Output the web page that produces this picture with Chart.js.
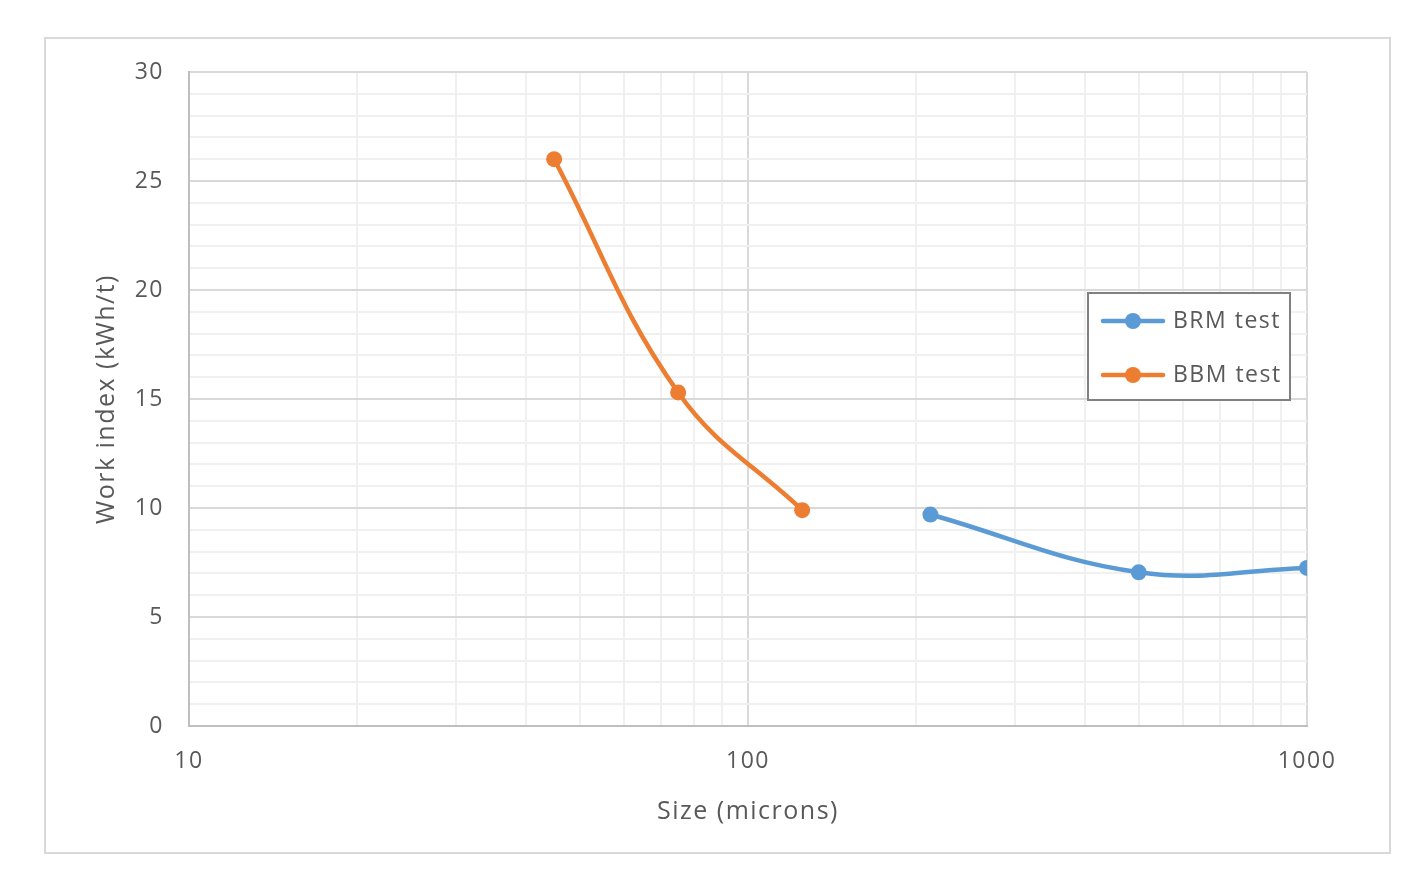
<!DOCTYPE html>
<html>
<head>
<meta charset="utf-8">
<script src="https://cdn.jsdelivr.net/npm/chart.js@4/dist/chart.umd.min.js"></script>
<style>
  html, body { margin: 0; padding: 0; background: #ffffff; }
  #wrap { position: relative; width: 1415px; height: 878px; }
  canvas { display: block; }
</style>
</head>
<body>
<div id="wrap"><canvas id="c" width="1415" height="878"></canvas></div>
<script>
// ---- Data ----
const seriesNames = ['BRM test', 'BBM test'];
const sizesBRM = [212, 500, 1000];
const workBRM = [9.7, 7.05, 7.25];
const sizesBBM = [45, 75, 125];
const workBBM = [26, 15.3, 9.9];
const xTickValues = [10, 20, 30, 40, 50, 60, 70, 80, 90, 100, 200, 300, 400, 500, 600, 700, 800, 900, 1000];
const xTickLabels = ['10', '100', '1000'];
const yTickLabels = ['0', '5', '10', '15', '20', '25', '30'];

const BLUE = '#5b9bd5';
const ORANGE = '#ed7d31';
const TEXT = '#595959';
const FONT = "'Open Sans', 'DejaVu Sans', sans-serif";

const toPoints = (xs, ys) => xs.map((x, i) => ({ x: x, y: ys[i] }));

const spacingPlugin = {
  id: 'spacing',
  beforeLayout(chart) { chart.ctx.letterSpacing = '1.5px'; },
  beforeDraw(chart) { chart.ctx.letterSpacing = '1.5px'; }
};

const framePlugin = {
  id: 'frame',
  beforeDraw(chart) {
    const ctx = chart.ctx;
    ctx.save();
    ctx.fillStyle = '#ffffff';
    ctx.fillRect(0, 0, chart.width, chart.height);
    ctx.strokeStyle = '#d9d9d9';
    ctx.lineWidth = 2;
    ctx.strokeRect(45, 38, 1345, 815);
    ctx.restore();
  }
};

const legendPlugin = {
  id: 'insideLegend',
  afterDatasetsDraw(chart) {
    const ctx = chart.ctx;
    const ca = chart.chartArea;
    const bx = ca.right - 219, by = ca.top + 221, bw = 202, bh = 107;
    ctx.save();
    ctx.fillStyle = '#ffffff';
    ctx.fillRect(bx, by, bw, bh);
    ctx.strokeStyle = '#808080';
    ctx.lineWidth = 2;
    ctx.strokeRect(bx, by, bw, bh);
    chart.data.datasets.forEach((ds, i) => {
      const cy = by + 28 + i * 54;
      ctx.strokeStyle = ds.borderColor;
      ctx.lineWidth = 4.5;
      ctx.lineCap = 'round';
      ctx.beginPath();
      ctx.moveTo(bx + 15, cy);
      ctx.lineTo(bx + 75, cy);
      ctx.stroke();
      ctx.fillStyle = ds.borderColor;
      ctx.beginPath();
      ctx.arc(bx + 45, cy, 8, 0, Math.PI * 2);
      ctx.fill();
      ctx.fillStyle = TEXT;
      ctx.font = "23px " + FONT;
      ctx.textBaseline = 'middle';
      ctx.textAlign = 'left';
      ctx.fillText(ds.label, bx + 85, cy);
    });
    ctx.restore();
  }
};

new Chart(document.getElementById('c'), {
  type: 'line',
  data: {
    datasets: [
      {
        label: seriesNames[0],
        data: toPoints(sizesBRM, workBRM),
        borderColor: BLUE,
        backgroundColor: BLUE,
        borderWidth: 4.5,
        pointRadius: 8,
        pointHoverRadius: 8,
        pointBorderWidth: 0,
        tension: 0.4
      },
      {
        label: seriesNames[1],
        data: toPoints(sizesBBM, workBBM),
        borderColor: ORANGE,
        backgroundColor: ORANGE,
        borderWidth: 4.5,
        pointRadius: 8,
        pointHoverRadius: 8,
        pointBorderWidth: 0,
        tension: 0.4
      }
    ]
  },
  options: {
    responsive: false,
    animation: false,
    layout: { padding: { left: 0, top: 72, right: 108, bottom: 0 } },
    plugins: { legend: { display: false }, tooltip: { enabled: false } },
    scales: {
      x: {
        type: 'logarithmic',
        min: 10,
        max: 1000,
        afterBuildTicks(scale) {
          scale.ticks = xTickValues.map(v => ({ value: v }));
        },
        afterFit(scale) { scale.height = 152; },
        grid: {
          drawTicks: false,
          color(c) {
            const v = c.tick && c.tick.value;
            if (v === 100 || v === 1000 || v === 10) return '#d9d9d9';
            return '#f0f0f0';
          },
          lineWidth: 2
        },
        border: { color: '#bfbfbf', width: 2 },
        ticks: {
          autoSkip: false,
          maxRotation: 0,
          padding: 22,
          color: TEXT,
          font: { family: FONT, size: 23 },
          callback(v) { return xTickLabels.includes(String(v)) ? String(v) : ''; }
        },
        title: {
          display: true,
          text: 'Size (microns)',
          color: TEXT,
          font: { family: FONT, size: 25 },
          padding: { top: 4, bottom: 51 }
        }
      },
      y: {
        type: 'linear',
        min: 0,
        max: 30,
        afterFit(scale) { scale.width = 189; },
        grid: {
          drawTicks: false,
          color(c) {
            const v = c.tick && c.tick.value;
            return (v % 5 === 0) ? '#d9d9d9' : '#f0f0f0';
          },
          lineWidth: 2
        },
        border: { color: '#bfbfbf', width: 2 },
        ticks: {
          stepSize: 1,
          autoSkip: false,
          padding: 25,
          color: TEXT,
          font: { family: FONT, size: 23 },
          callback(v) { return yTickLabels.includes(String(v)) ? String(v) : ''; }
        },
        title: {
          display: true,
          text: 'Work index (kWh/t)',
          color: TEXT,
          font: { family: FONT, size: 25 },
          padding: { top: 92, bottom: 0 }
        }
      }
    }
  },
  plugins: [spacingPlugin, framePlugin, legendPlugin]
});
</script>
</body>
</html>
